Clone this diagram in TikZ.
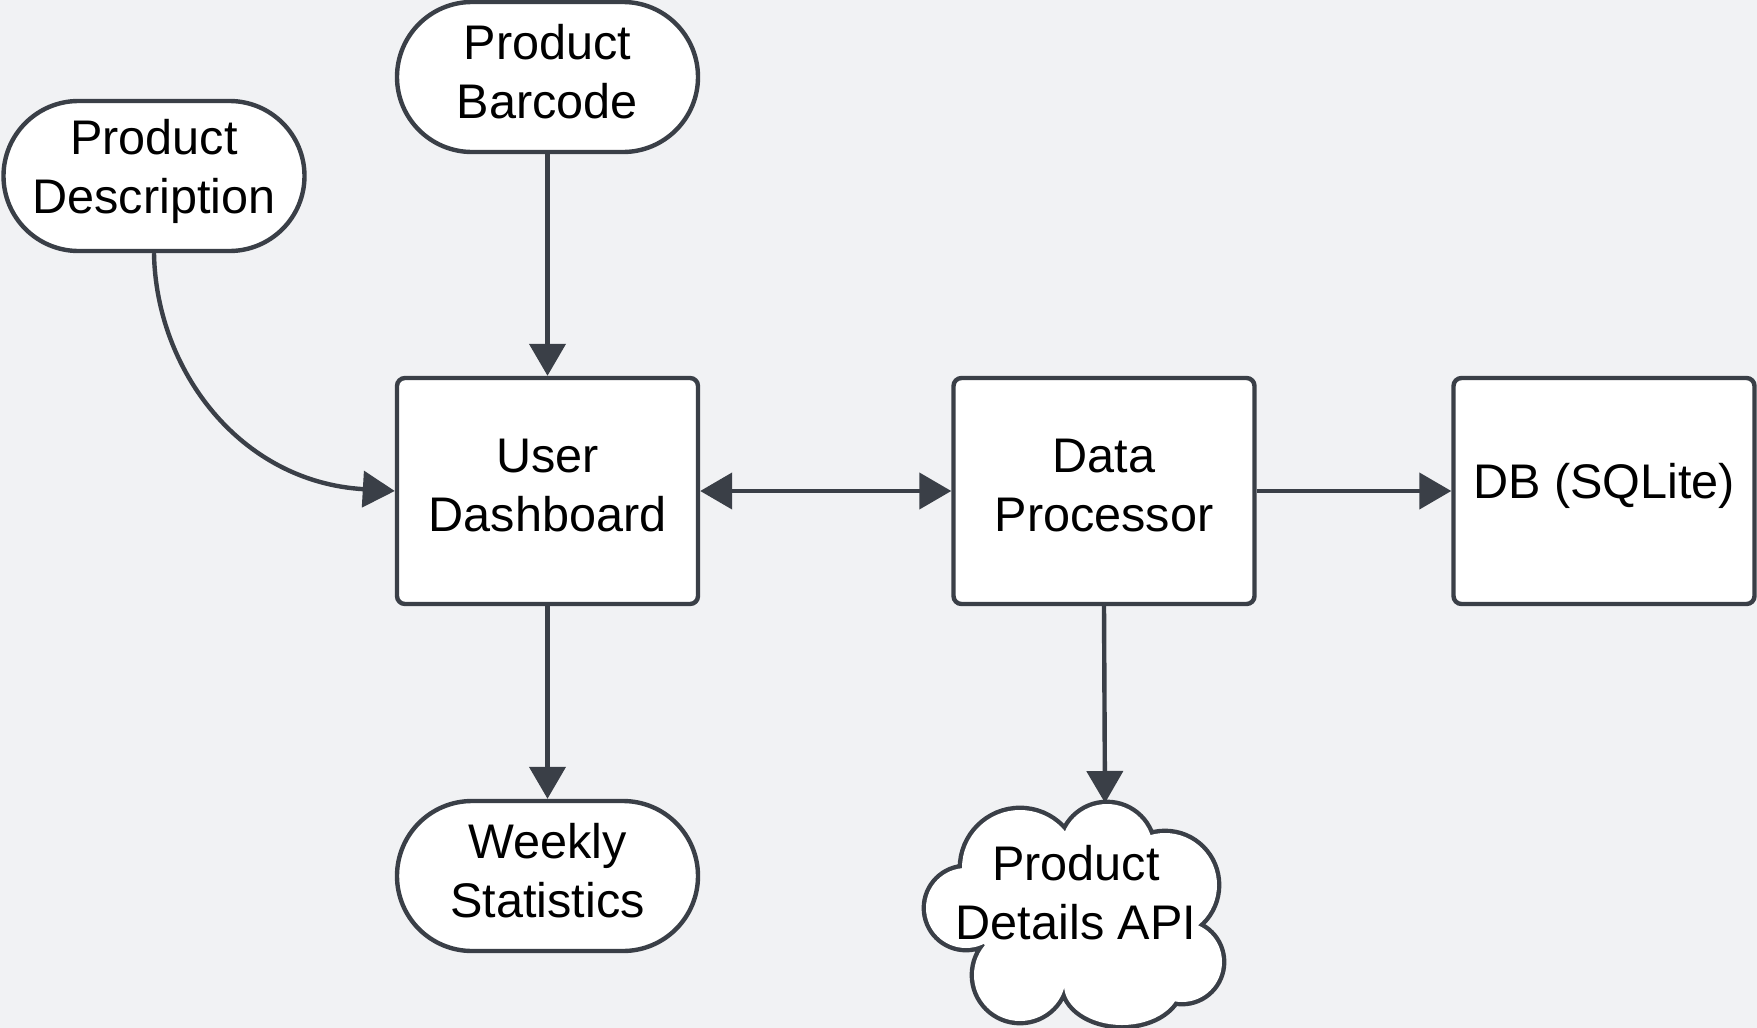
\documentclass[tikz,border=0pt]{standalone}
\usepackage{fontspec}
\setmainfont{Liberation Sans}
\usetikzlibrary{arrows.meta,shapes.misc}
\definecolor{bg}{HTML}{F1F2F4}
\definecolor{ln}{HTML}{3A3F47}
\begin{document}
\begin{tikzpicture}[x=0.5pt,y=-0.5pt,
  txt/.style={align=center, font=\fontsize{24.3}{29.5}\selectfont, text=black, inner sep=0pt},
  base/.style={draw=ln, line width=2.2pt, fill=white, inner sep=0pt},
  term/.style={base, rounded rectangle, minimum width=150.5pt, minimum height=75pt},
  proc/.style={base, rectangle, rounded corners=4pt, minimum width=150.5pt, minimum height=113pt},
  conn/.style={draw=ln, line width=2.2pt, -{Triangle[length=16pt,width=18pt]}},
  dconn/.style={draw=ln, line width=2.2pt, {Triangle[length=16pt,width=18pt]}-{Triangle[length=16pt,width=18pt]}},
  lab/.style={label={[txt,yshift=2.5pt]center:{#1}}},
]
\fill[bg] (0,0) rectangle (1757,1028);
\useasboundingbox (0,0) rectangle (1757,1028);

\node[term, lab={Product\\Barcode}] (bar) at (547.5,77) {};
\node[term, lab={Product\\Description}] (desc) at (154,176) {};
\node[proc, lab={User\\Dashboard}] (dash) at (547.5,491) {};
\node[proc, lab={Data\\Processor}] (dp) at (1104,491) {};
\node[proc, lab={DB (SQLite)}] (db) at (1604,491) {};
\node[term, lab={Weekly\\Statistics}] (week) at (547.5,876) {};

% cloud: union of puffs, outline by stroking then filling over
\def\puffs{%
  (966,908) circle [radius=20pt]
  (1020,868) circle [radius=29pt]
  (1107,850) circle [radius=23pt]
  (1165,885) circle [radius=26pt]
  (1182,962) circle [radius=20pt]
  (1122,985) ellipse [x radius=29pt, y radius=20pt]
  (1020,975) circle [radius=23pt]
  (1075,915) ellipse [x radius=50pt, y radius=35pt]}
\draw[draw=ln, line width=4.4pt] \puffs;
\fill[white] \puffs;
\node[txt] (api) at (1076,893) {Product\\Details API};
\coordinate (apitop) at (1105,803);

\draw[conn] (bar.south) -- (dash.north);
\draw[conn] (desc.south) .. controls (156,370) and (240,482) .. (dash.west);
\draw[dconn] (dash.east) -- (dp.west);
\draw[conn] (dp.east) -- (db.west);
\draw[conn] (dash.south) -- (week.north);
\draw[conn] (dp.south) -- (apitop);
\end{tikzpicture}
\end{document}
